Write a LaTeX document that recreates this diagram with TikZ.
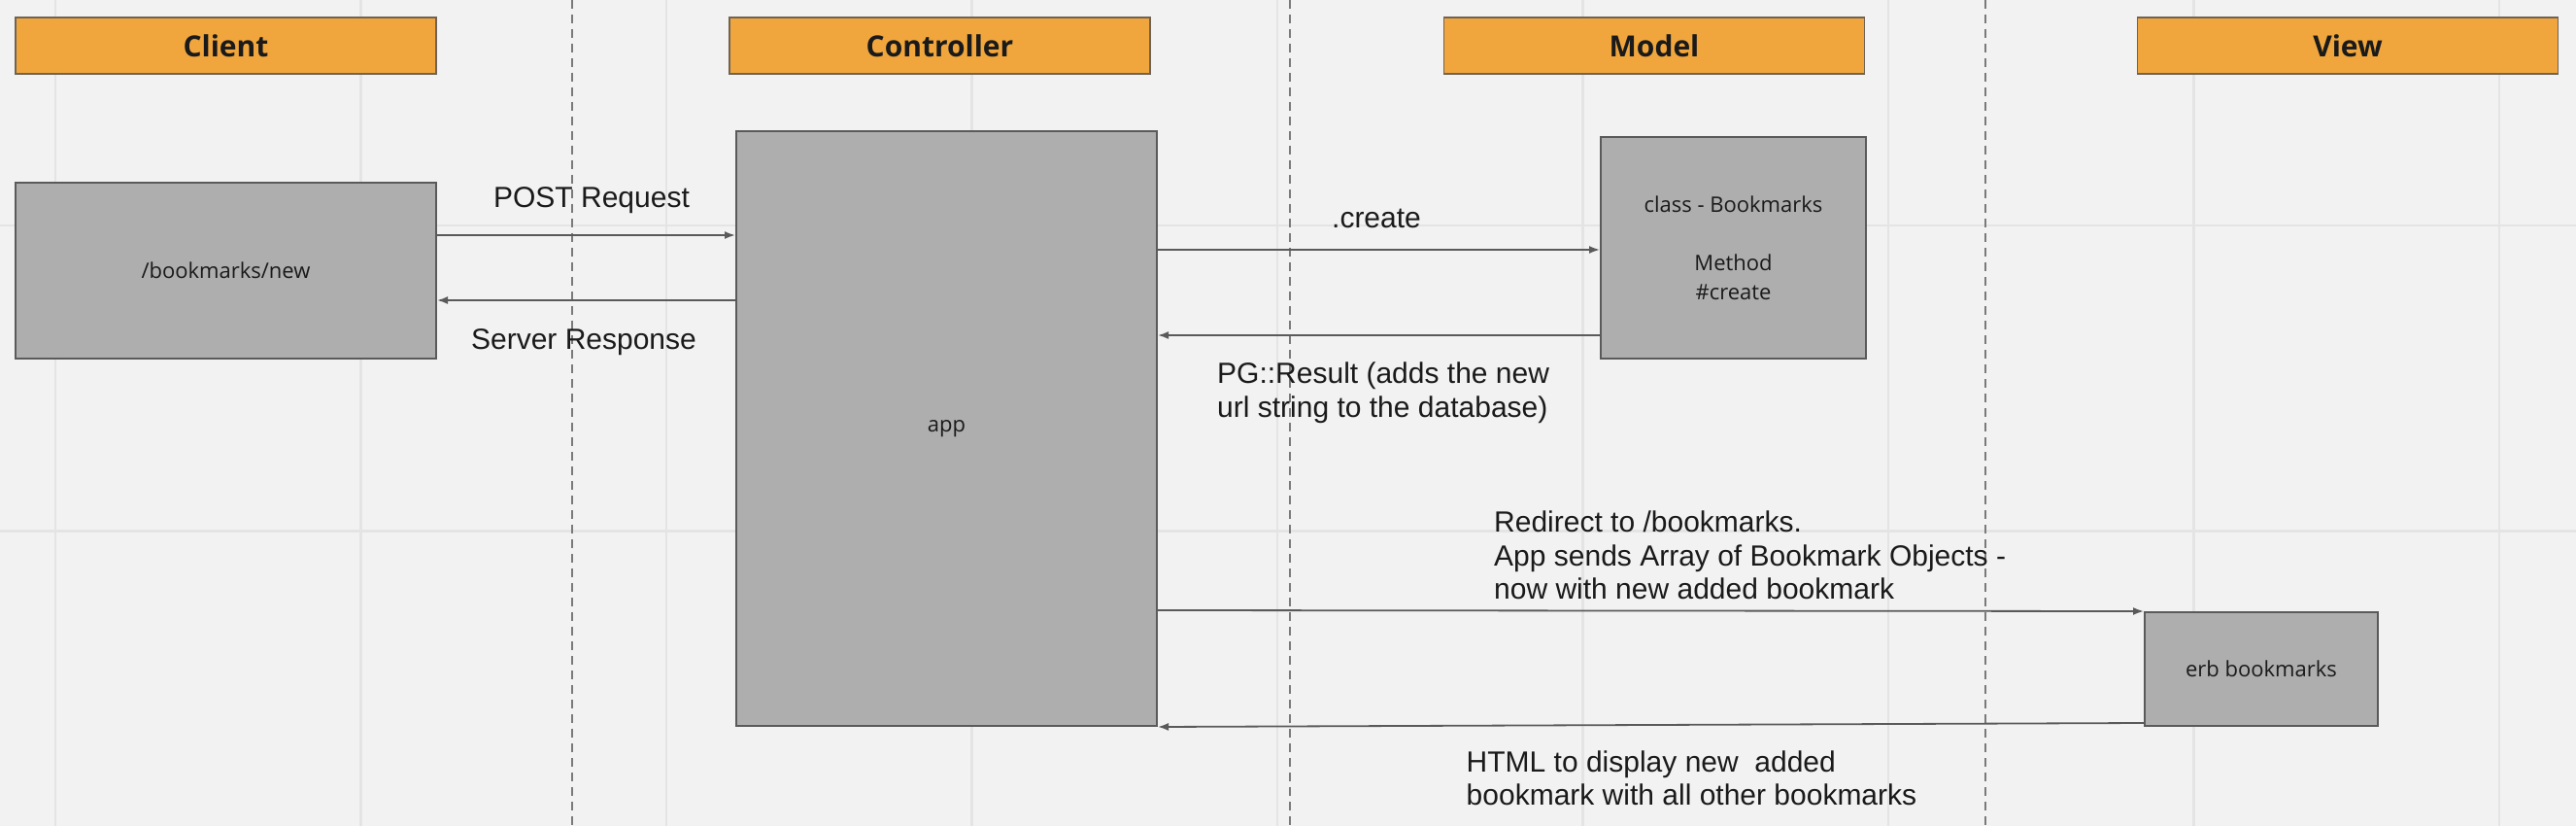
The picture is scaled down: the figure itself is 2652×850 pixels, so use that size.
\documentclass[tikz,border=0pt]{standalone}
\usepackage{fontspec}
\setmainfont{Liberation Sans}
\newfontfamily\osans{Open Sans}
\usetikzlibrary{arrows.meta}
\definecolor{bg}{HTML}{F2F2F2}
\definecolor{gridc}{HTML}{E4E4E4}
\definecolor{hdrfill}{HTML}{F0A63D}
\definecolor{hdrdraw}{HTML}{6E6354}
\definecolor{boxfill}{HTML}{AEAEAE}
\definecolor{boxdraw}{HTML}{5A5A5A}
\definecolor{linec}{HTML}{5A5A5A}
\definecolor{dashc}{HTML}{7A7A7A}
\definecolor{txt}{HTML}{1A1A1A}
\tikzset{
  hdr/.style={draw=hdrdraw, line width=1.5pt, fill=hdrfill, minimum width=433pt, minimum height=58pt, inner sep=0pt, text=txt, font=\osans\bfseries\fontsize{30}{36}\selectfont},
  block/.style={draw=boxdraw, line width=2pt, fill=boxfill, inner sep=0pt, text=txt, align=center, font=\osans\fontsize{22}{30}\selectfont},
  msg/.style={draw=linec, line width=1.8pt, -{Latex[length=11pt,width=8pt]}},
  lbl/.style={inner sep=0pt, text=txt, font=\fontsize{30}{34.5}\selectfont},
  lblL/.style={lbl, align=left, anchor=west},
  lane/.style={draw=dashc, line width=1.5pt, dash pattern=on 9pt off 6pt},
  gridline/.style={draw=gridc, line width=2.5pt}
}
\begin{document}
\begin{tikzpicture}[x=1pt,y=-1pt]
\fill[bg] (0,0) rectangle (2652,850);
\useasboundingbox (0,0) rectangle (2652,850);
% grid
\foreach \gx in {57,371.5,686,1000.5,1315,1629.5,1944,2258.5,2573}{
  \draw[gridline] (\gx,0) -- (\gx,850);
}
\foreach \gy in {232,546.5}{
  \draw[gridline] (0,\gy) -- (2652,\gy);
}
% swimlane separators
\foreach \lx in {589,1328,2044}{
  \draw[lane] (\lx,0) -- (\lx,850);
}
% headers
\node[hdr] (hClient) at (232.5,47) {Client};
\node[hdr] (hController) at (967.5,47) {Controller};
\node[hdr] (hModel) at (1703,47) {Model};
\node[hdr] (hView) at (2417,47) {View};
% blocks
\node[block, minimum width=433pt, minimum height=181pt] (client) at (232.5,278.5) {/bookmarks/new};
\node[block, minimum width=433pt, minimum height=612pt] (app) at (974.5,441) {app};
\node[block, minimum width=273pt, minimum height=228pt] (model) at (1784.5,255) {class - Bookmarks\\[30pt]Method\\\#create};
\node[block, minimum width=240pt, minimum height=117pt] (erb) at (2328,688.5) {erb bookmarks};
% messages
\draw[msg] (client.east |- 0,242) -- (app.west |- 0,242);
\draw[msg] (app.west |- 0,309) -- (client.east |- 0,309);
\draw[msg] (app.east |- 0,257) -- (model.west |- 0,257);
\draw[msg] (model.west |- 0,345) -- (app.east |- 0,345);
\draw[msg] (app.east |- 0,628) -- (erb.north west);
\draw[msg] (erb.west |- 0,744) -- (app.south east);
% labels
\node[lbl] (lPost) at (609,206) {POST Request};
\node[lbl] (lResp) at (601,352) {Server Response};
\node[lbl] (lCreate) at (1417,225) {.create};
\node[lblL] (lPG) at (1253,404) {PG::Result (adds the new\\url string to the database)};
\node[lblL] (lRedir) at (1538,571.5) {Redirect to /bookmarks.\\App sends Array of Bookmark Objects -\\now with new added bookmark};
\node[lblL] (lHTML) at (1509.5,801) {HTML to display new\ \ added\\bookmark with all other bookmarks};
\end{tikzpicture}
\end{document}
